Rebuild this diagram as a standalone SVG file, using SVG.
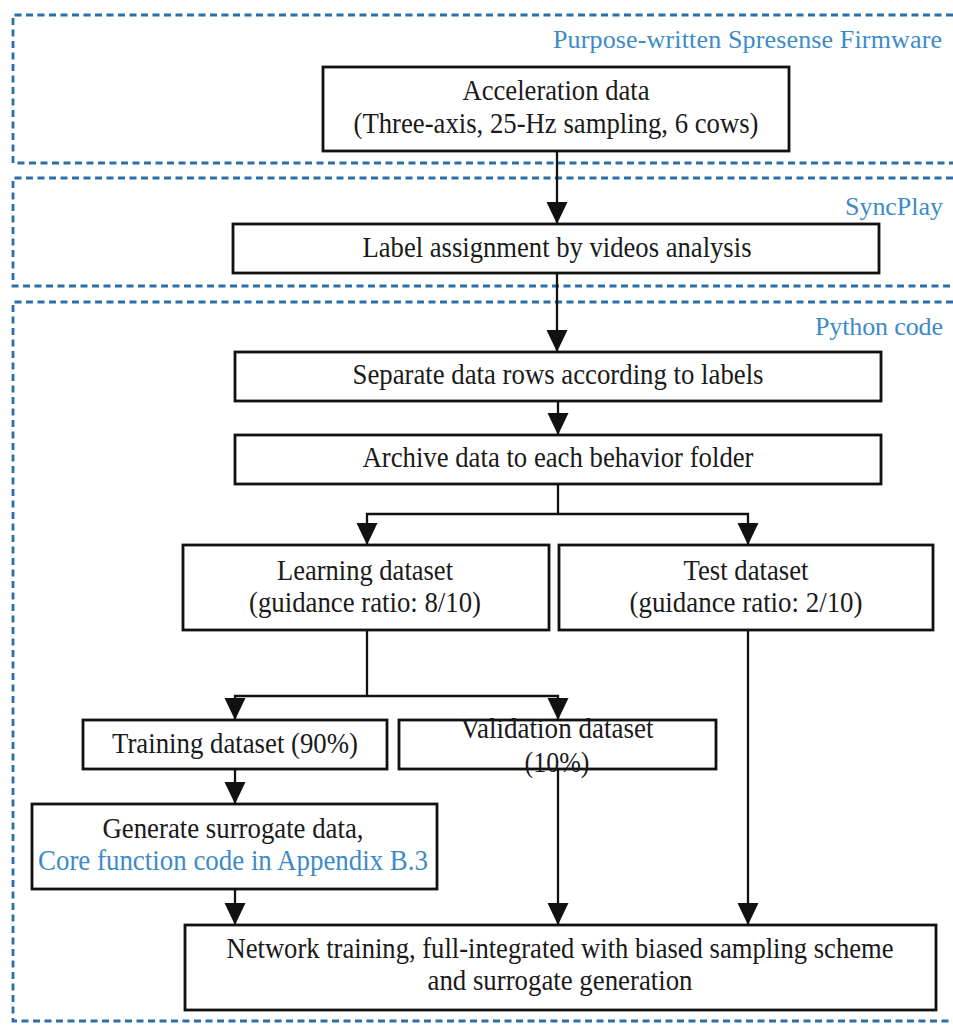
<svg xmlns="http://www.w3.org/2000/svg" width="953" height="1025" viewBox="0 0 953 1025">
  <defs>
    <style>
      .zone { fill: none; stroke: #2a6fa8; stroke-width: 2.8; stroke-dasharray: 7 4.5; }
      .zone-label { font-family: "Liberation Serif", "Times New Roman", serif; font-size: 26px; fill: #3d8bc6; }
      .box { fill: #ffffff; stroke: #111111; stroke-width: 2.8; }
      .txt { font-family: "Liberation Serif", "Times New Roman", serif; font-size: 29px; fill: #1a1a1a; text-anchor: middle; }
      .blue { fill: #3d8bc6; }
      .wire { fill: none; stroke: #111111; stroke-width: 2.3; }
      .arrow { fill: none; stroke: #111111; stroke-width: 2.3; marker-end: url(#head); }
    </style>
    <marker id="head" markerUnits="userSpaceOnUse" markerWidth="24" markerHeight="22" refX="22" refY="10.5" orient="auto">
      <path d="M0,0 L22,10.5 L0,21 Z" fill="#111111"/>
    </marker>
  </defs>

  <rect width="953" height="1025" fill="#ffffff"/>

  <!-- tool zones, open towards the right edge -->
  <g id="zones">
    <path class="zone" d="M953,15 H13 V163 H953"/>
    <text class="zone-label" x="553" y="48" textLength="389" lengthAdjust="spacing">Purpose-written Spresense Firmware</text>
    <path class="zone" d="M953,178 H13 V286 H953"/>
    <text class="zone-label" x="845" y="215" textLength="98" lengthAdjust="spacing">SyncPlay</text>
    <path class="zone" d="M953,302 H13 V1021 H953"/>
    <text class="zone-label" x="815" y="335" textLength="128" lengthAdjust="spacing">Python code</text>
  </g>

  <!-- connectors -->
  <g id="connectors">
    <line class="arrow" x1="557" y1="151" x2="557" y2="224"/>
    <line class="arrow" x1="557" y1="273" x2="557" y2="352"/>
    <line class="arrow" x1="558" y1="401" x2="558" y2="435"/>
    <polyline class="wire" points="558,484 558,514"/>
    <polyline class="arrow" points="558,514 367,514 367,545"/>
    <polyline class="arrow" points="558,514 748,514 748,545"/>
    <polyline class="wire" points="367,630 367,696"/>
    <polyline class="arrow" points="367,696 235,696 235,720"/>
    <polyline class="arrow" points="367,696 558,696 558,720"/>
    <line class="arrow" x1="235" y1="769" x2="235" y2="804"/>
    <line class="arrow" x1="235" y1="889" x2="235" y2="925"/>
    <line class="arrow" x1="558" y1="769" x2="558" y2="925"/>
    <line class="arrow" x1="748" y1="630" x2="748" y2="925"/>
  </g>

  <g id="acceleration">
    <rect class="box" x="323" y="67" width="466" height="84"/>
    <text class="txt" x="556" y="100" textLength="187" lengthAdjust="spacingAndGlyphs">Acceleration data</text>
    <text class="txt" x="556" y="133" textLength="405" lengthAdjust="spacingAndGlyphs">(Three-axis, 25-Hz sampling, 6 cows)</text>
  </g>

  <g id="labeling">
    <rect class="box" x="233" y="224" width="646" height="49"/>
    <text class="txt" x="557" y="257" textLength="389" lengthAdjust="spacingAndGlyphs">Label assignment  by videos analysis</text>
  </g>

  <g id="separate">
    <rect class="box" x="235" y="352" width="646" height="49"/>
    <text class="txt" x="558" y="384" textLength="411" lengthAdjust="spacingAndGlyphs">Separate data rows according to labels</text>
  </g>

  <g id="archive">
    <rect class="box" x="235" y="435" width="646" height="49"/>
    <text class="txt" x="558" y="467" textLength="391" lengthAdjust="spacingAndGlyphs">Archive data to each behavior folder</text>
  </g>

  <g id="learning">
    <rect class="box" x="183" y="545" width="366" height="85"/>
    <text class="txt" x="365" y="580" textLength="176" lengthAdjust="spacingAndGlyphs">Learning dataset</text>
    <text class="txt" x="365" y="612" textLength="232" lengthAdjust="spacingAndGlyphs">(guidance ratio: 8/10)</text>
  </g>

  <g id="test">
    <rect class="box" x="559" y="545" width="374" height="85"/>
    <text class="txt" x="746" y="580" textLength="125" lengthAdjust="spacingAndGlyphs">Test dataset</text>
    <text class="txt" x="746" y="612" textLength="233" lengthAdjust="spacingAndGlyphs">(guidance ratio: 2/10)</text>
  </g>

  <g id="training">
    <rect class="box" x="83" y="720" width="304" height="49"/>
    <text class="txt" x="235" y="753" textLength="246" lengthAdjust="spacingAndGlyphs">Training dataset (90%)</text>
  </g>

  <g id="validation">
    <rect class="box" x="399" y="720" width="317" height="49"/>
    <text class="txt" x="557" y="738" textLength="193" lengthAdjust="spacingAndGlyphs">Validation dataset</text>
    <text class="txt" x="557" y="772" textLength="65" lengthAdjust="spacingAndGlyphs">(10%)</text>
  </g>

  <g id="surrogate">
    <rect class="box" x="32" y="804" width="405" height="85"/>
    <text class="txt" x="233" y="838" textLength="261" lengthAdjust="spacingAndGlyphs">Generate surrogate data,</text>
    <text class="txt blue" x="233" y="870" textLength="390" lengthAdjust="spacingAndGlyphs">Core function code in Appendix B.3</text>
  </g>

  <g id="network">
    <rect class="box" x="185" y="925" width="751" height="85"/>
    <text class="txt" x="560" y="958" textLength="667" lengthAdjust="spacingAndGlyphs">Network training, full-integrated with biased sampling scheme</text>
    <text class="txt" x="560" y="990" textLength="265" lengthAdjust="spacingAndGlyphs">and surrogate generation</text>
  </g>
</svg>
